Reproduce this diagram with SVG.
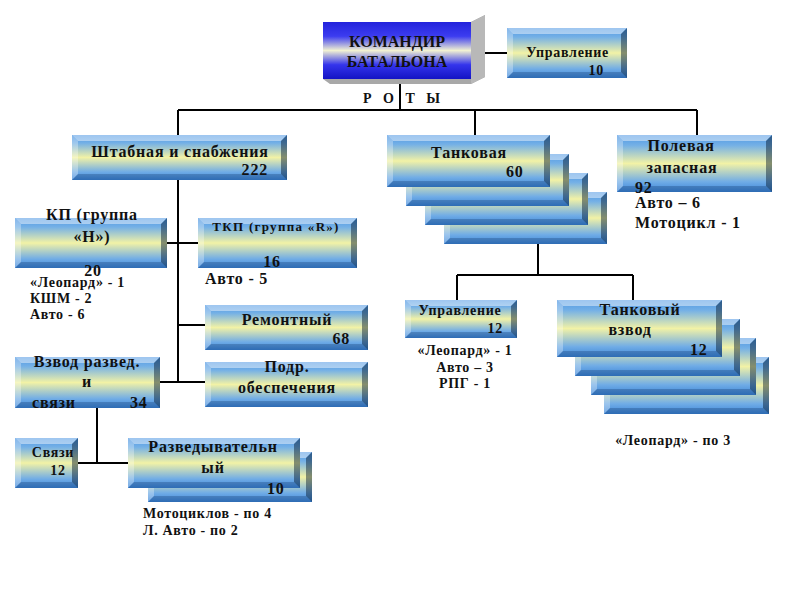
<svg xmlns="http://www.w3.org/2000/svg" xmlns:xlink="http://www.w3.org/1999/xlink" width="800" height="600" viewBox="0 0 800 600">
<defs>
<linearGradient id="gBY" x1="0" y1="0" x2="0" y2="1">
<stop offset="0" stop-color="#4f97e3"/>
<stop offset="0.18" stop-color="#74b0e6"/>
<stop offset="0.5" stop-color="#f2f2a6"/>
<stop offset="0.82" stop-color="#70ace6"/>
<stop offset="1" stop-color="#3d86d8"/>
</linearGradient>
<linearGradient id="gCmd" x1="0" y1="0" x2="0" y2="1">
<stop offset="0" stop-color="#2323dc"/>
<stop offset="0.25" stop-color="#3c3cf0"/>
<stop offset="0.5" stop-color="#f2f2d2"/>
<stop offset="0.75" stop-color="#3434ec"/>
<stop offset="1" stop-color="#1414c4"/>
</linearGradient>
<g id="tankBox">
<rect class="face" width="163" height="52"/>
<path class="bt" d="M0,0H163L157,6H6z"/><path class="bl" d="M0,0L6,6V46L0,52z"/><path class="br" d="M163,0V52L157,46V6z"/><path class="bb" d="M0,52L6,46H157L163,52z"/>
</g>
<g id="tvBox">
<rect class="face" width="165" height="57"/>
<path class="bt" d="M0,0H165L159,6H6z"/><path class="bl" d="M0,0L6,6V51L0,57z"/><path class="br" d="M165,0V57L159,51V6z"/><path class="bb" d="M0,57L6,51H159L165,57z"/>
</g>
</defs>
<style>
.face{fill:url(#gBY);}
.bt{fill:#ffffff;fill-opacity:0.45;}
.bl{fill:#ffffff;fill-opacity:0.3;}
.br{fill:#001428;fill-opacity:0.45;}
.bb{fill:#001e50;fill-opacity:0.25;}
.ln{stroke:#000;stroke-width:2;fill:none;}
text{font-family:"Liberation Serif","Times New Roman",serif;font-weight:bold;fill:#111;}
.t16{font-size:16px;}
.t15{font-size:16px;letter-spacing:0.8px;}
.t13{font-size:14px;letter-spacing:0.7px;}
.t12{font-size:13px;letter-spacing:1.3px;}
.m{text-anchor:middle;}
.e{text-anchor:end;}
</style>
<rect width="800" height="600" fill="#ffffff"/>

<g id="connectors">
<path class="ln" d="M471,53H507"/>
<path class="ln" d="M400,80V110"/>
<path class="ln" d="M178,110H697"/>
<path class="ln" d="M178,110V135M475,110V135M697,110V135"/>
<path class="ln" d="M178,180V382"/>
<path class="ln" d="M167,243H198"/>
<path class="ln" d="M178,325H205"/>
<path class="ln" d="M160,382H205"/>
<path class="ln" d="M97,408V463M78,463H128"/>
<path class="ln" d="M538,244V275M457,275H633M457,275V300M633,275V300"/>
</g>

<g id="commander">
<path d="M471,22L485,15V77L471,84H330L323,79H471z" fill="#a8a8a8"/>
<path d="M471,22L485,15V77L471,84z" fill="#b8b8b8"/>
<rect x="323" y="22" width="148" height="57" fill="url(#gCmd)"/>
<text class="t16 m" x="397" y="47">КОМАНДИР</text>
<text class="t16 m" x="397" y="67">БАТАЛЬОНА</text>
</g>

<g id="upravlenie10" transform="translate(507,28)">
<rect class="face" width="120" height="50"/>
<path class="bt" d="M0,0H120L114,6H6z"/><path class="bl" d="M0,0L6,6V44L0,50z"/><path class="br" d="M120,0V50L114,44V6z"/><path class="bb" d="M0,50L6,44H114L120,50z"/>
<text class="t13 e" x="102" y="29">Управление</text>
<text class="t13 e" x="97" y="47">10</text>
</g>

<text class="t13" x="363" y="103" style="letter-spacing:4px">Р О Т Ы</text>

<g id="shtab" transform="translate(72,135)">
<rect class="face" width="215" height="45"/>
<path class="bt" d="M0,0H215L209,6H6z"/><path class="bl" d="M0,0L6,6V39L0,45z"/><path class="br" d="M215,0V45L209,39V6z"/><path class="bb" d="M0,45L6,39H209L215,45z"/>
<text class="t15 m" x="108" y="22">Штабная и снабжения</text>
<text class="t15 e" x="196" y="40">222</text>
</g>

<g id="tankovaya">
<use xlink:href="#tankBox" href="#tankBox" transform="translate(444,192)"/>
<use xlink:href="#tankBox" href="#tankBox" transform="translate(425,173)"/>
<use xlink:href="#tankBox" href="#tankBox" transform="translate(406,154)"/>
<use xlink:href="#tankBox" href="#tankBox" transform="translate(387,135)"/>
<text class="t15 m" x="469" y="158">Танковая</text>
<text class="t15" x="506" y="177">60</text>
</g>

<g id="polevaya" transform="translate(617,135)">
<rect class="face" width="155" height="57"/>
<path class="bt" d="M0,0H155L149,6H6z"/><path class="bl" d="M0,0L6,6V51L0,57z"/><path class="br" d="M155,0V57L149,51V6z"/><path class="bb" d="M0,57L6,51H149L155,57z"/>
<text class="t15 m" x="64" y="16">Полевая</text>
<text class="t15 m" x="65" y="38">запасная</text>
<text class="t15" x="18" y="58">92</text>
</g>
<text class="t15" x="635" y="208">Авто – 6</text>
<text class="t15" x="635" y="228">Мотоцикл - 1</text>

<g id="kp" transform="translate(15,218)">
<rect class="face" width="152" height="50"/>
<path class="bt" d="M0,0H152L146,6H6z"/><path class="bl" d="M0,0L6,6V44L0,50z"/><path class="br" d="M152,0V50L146,44V6z"/><path class="bb" d="M0,50L6,44H146L152,50z"/>
<text class="t15 m" x="77" y="2">КП (группа</text>
<text class="t15 m" x="77" y="24">«Н»)</text>
<text class="t15 m" x="78" y="58">20</text>
</g>
<text class="t13" x="30" y="287">«Леопард» - 1</text>
<text class="t13" x="30" y="303">КШМ - 2</text>
<text class="t13" x="30" y="319">Авто - 6</text>

<g id="tkp" transform="translate(198,218)">
<rect class="face" width="159" height="50"/>
<path class="bt" d="M0,0H159L153,6H6z"/><path class="bl" d="M0,0L6,6V44L0,50z"/><path class="br" d="M159,0V50L153,44V6z"/><path class="bb" d="M0,50L6,44H153L159,50z"/>
<text class="t12 m" x="78" y="13">ТКП (группа «R»)</text>
<text class="t15 m" x="74" y="49">16</text>
</g>
<text class="t15" x="205" y="284">Авто - 5</text>

<g id="remontny" transform="translate(205,305)">
<rect class="face" width="163" height="45"/>
<path class="bt" d="M0,0H163L157,6H6z"/><path class="bl" d="M0,0L6,6V39L0,45z"/><path class="br" d="M163,0V45L157,39V6z"/><path class="bb" d="M0,45L6,39H157L163,45z"/>
<text class="t15 m" x="82" y="20">Ремонтный</text>
<text class="t15 e" x="145" y="39">68</text>
</g>

<g id="vzvod" transform="translate(15,357)">
<rect class="face" width="145" height="51"/>
<path class="bt" d="M0,0H145L139,6H6z"/><path class="bl" d="M0,0L6,6V45L0,51z"/><path class="br" d="M145,0V51L139,45V6z"/><path class="bb" d="M0,51L6,45H139L145,51z"/>
<text class="t15 m" x="72" y="10">Взвод развед.</text>
<text class="t15 m" x="72" y="30">и</text>
<text class="t15" x="17" y="51">связи</text>
<text class="t15" x="115" y="51">34</text>
</g>

<g id="podr" transform="translate(205,362)">
<rect class="face" width="163" height="45"/>
<path class="bt" d="M0,0H163L157,6H6z"/><path class="bl" d="M0,0L6,6V39L0,45z"/><path class="br" d="M163,0V45L157,39V6z"/><path class="bb" d="M0,45L6,39H157L163,45z"/>
<text class="t15 m" x="82" y="10">Подр.</text>
<text class="t15 m" x="82" y="31">обеспечения</text>
</g>

<g id="svyazi" transform="translate(15,438)">
<rect class="face" width="63" height="50"/>
<path class="bt" d="M0,0H63L57,6H6z"/><path class="bl" d="M0,0L6,6V44L0,50z"/><path class="br" d="M63,0V50L57,44V6z"/><path class="bb" d="M0,50L6,44H57L63,50z"/>
<text class="t13 m" x="38" y="19">Связи</text>
<text class="t13 m" x="43" y="37">12</text>
</g>

<g id="razvedka">
<g transform="translate(148,452)">
<rect class="face" width="164" height="50"/>
<path class="bt" d="M0,0H164L158,6H6z"/><path class="bl" d="M0,0L6,6V44L0,50z"/><path class="br" d="M164,0V50L158,44V6z"/><path class="bb" d="M0,50L6,44H158L164,50z"/>
</g>
<g transform="translate(128,438)">
<rect class="face" width="172" height="50"/>
<path class="bt" d="M0,0H172L166,6H6z"/><path class="bl" d="M0,0L6,6V44L0,50z"/><path class="br" d="M172,0V50L166,44V6z"/><path class="bb" d="M0,50L6,44H166L172,50z"/>
</g>
<text class="t15 m" x="213" y="452">Разведывательн</text>
<text class="t15 m" x="213" y="473">ый</text>
<text class="t15" x="267" y="494">10</text>
</g>
<text class="t13" x="143" y="518">Мотоциклов - по 4</text>
<text class="t13" x="143" y="535">Л. Авто - по 2</text>

<g id="upravlenie12" transform="translate(405,300)">
<rect class="face" width="112" height="38"/>
<path class="bt" d="M0,0H112L106,6H6z"/><path class="bl" d="M0,0L6,6V32L0,38z"/><path class="br" d="M112,0V38L106,32V6z"/><path class="bb" d="M0,38L6,32H106L112,38z"/>
<text class="t13 m" x="55" y="15">Управление</text>
<text class="t13 e" x="98" y="33">12</text>
</g>
<text class="t13 m" x="465" y="355">«Леопард» - 1</text>
<text class="t13 m" x="465" y="372">Авто – 3</text>
<text class="t13 m" x="465" y="388">РПГ - 1</text>

<g id="tankovy-vzvod">
<use xlink:href="#tvBox" href="#tvBox" transform="translate(604,357)"/>
<use xlink:href="#tvBox" href="#tvBox" transform="translate(591,338)"/>
<use xlink:href="#tvBox" href="#tvBox" transform="translate(575,319)"/>
<use xlink:href="#tvBox" href="#tvBox" transform="translate(557,300)"/>
<text class="t15 m" x="640" y="315">Танковый</text>
<text class="t15 m" x="630" y="335">взвод</text>
<text class="t15" x="690" y="355">12</text>
</g>
<text class="t13 m" x="673" y="445">«Леопард» - по 3</text>
</svg>
